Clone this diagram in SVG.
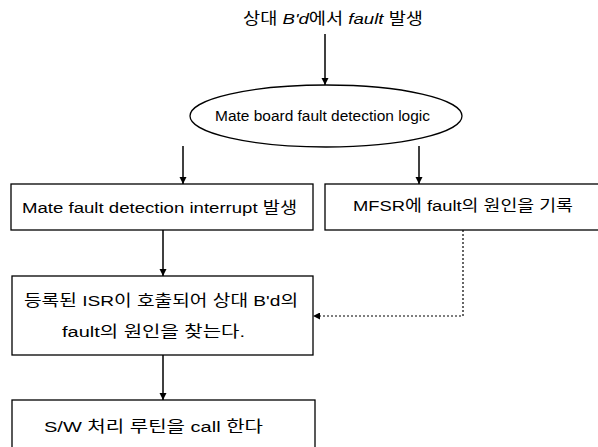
<svg xmlns="http://www.w3.org/2000/svg" width="598" height="447" viewBox="0 0 598 447">
<style>
text{font-family:"Liberation Sans","Noto Sans CJK KR",sans-serif;font-size:15.5px;fill:#000}
.box{fill:#fff;stroke:#000;stroke-width:1.3}
.c{stroke:#000;stroke-width:1.5;fill:none}
.d{stroke:#000;stroke-width:1.2;fill:none;stroke-dasharray:2 2}
</style>
<defs>
<marker id="ah" viewBox="0 0 10 10" refX="10" refY="5" markerWidth="7" markerHeight="10" markerUnits="userSpaceOnUse" orient="auto"><path d="M0,0L10,5L0,10z" fill="#000"/></marker>
<marker id="ah2" viewBox="0 0 10 10" refX="10" refY="5" markerWidth="10" markerHeight="7" markerUnits="userSpaceOnUse" orient="auto"><path d="M0,0L10,5L0,10z" fill="#000"/></marker>
</defs>
<g id="start"><text x="243" y="24" textLength="180" lengthAdjust="spacingAndGlyphs">상대 <tspan font-style="italic">B'd</tspan>에서 <tspan font-style="italic">fault</tspan> 발생</text></g>
<g id="logic"><ellipse class="box" cx="326" cy="116" rx="136" ry="31"/><text x="215" y="121" textLength="215" lengthAdjust="spacingAndGlyphs">Mate board fault detection logic</text></g>
<g id="interrupt"><rect class="box" x="11" y="184" width="302" height="46"/><text x="22" y="213" textLength="275" lengthAdjust="spacingAndGlyphs">Mate fault detection interrupt 발생</text></g>
<g id="mfsr"><rect class="box" x="325" y="184" width="280" height="46"/><text x="353" y="211" textLength="220" lengthAdjust="spacingAndGlyphs">MFSR에 fault의 원인을 기록</text></g>
<g id="isr"><rect class="box" x="12" y="276" width="301" height="79"/><text x="24" y="306" textLength="274" lengthAdjust="spacingAndGlyphs">등록된 ISR이 호출되어 상대 B'd의</text><text x="62" y="337" textLength="183" lengthAdjust="spacingAndGlyphs">fault의 원인을 찾는다.</text></g>
<g id="sw"><rect class="box" x="12" y="400" width="303" height="60"/><text x="44" y="432" textLength="219" lengthAdjust="spacingAndGlyphs">S/W 처리 루틴을 call 한다</text></g>
<g id="connectors">
<path class="c" d="M325,34V85" marker-end="url(#ah)"/>
<path class="c" d="M183,146V184" marker-end="url(#ah)"/>
<path class="c" d="M419,146V184" marker-end="url(#ah)"/>
<path class="c" d="M163,230V276" marker-end="url(#ah)"/>
<path class="c" d="M163,355V400" marker-end="url(#ah)"/>
<path class="d" d="M463,230V316H313" marker-end="url(#ah2)"/>
</g>
</svg>
